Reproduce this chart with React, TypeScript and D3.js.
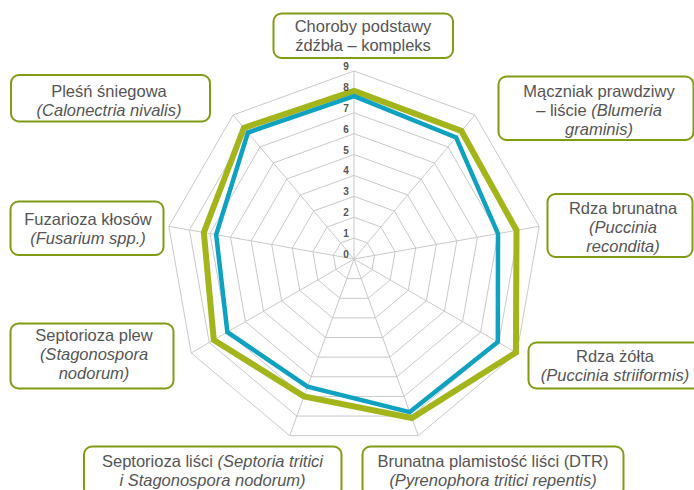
import React, { useEffect } from 'react';
import * as d3 from 'd3';

// ---- Data ----
const CATEGORIES: string[] = [
  'Choroby podstawy źdźbła – kompleks',
  'Mączniak prawdziwy – liście (Blumeria graminis)',
  'Rdza brunatna (Puccinia recondita)',
  'Rdza żółta (Puccinia striiformis)',
  'Brunatna plamistość liści (DTR) (Pyrenophora tritici repentis)',
  'Septorioza liści (Septoria tritici i Stagonospora nodorum)',
  'Septorioza plew (Stagonospora nodorum)',
  'Fuzarioza kłosów (Fusarium spp.)',
  'Pleśń śniegowa (Calonectria nivalis)',
];
const SERIES_GREEN: number[] = [8.05, 8.0, 7.9, 8.95, 8.1, 7.0, 7.75, 7.3, 8.2];
const SERIES_BLUE: number[] = [7.8, 7.6, 7.0, 7.95, 7.8, 6.5, 7.0, 6.7, 7.9];
const TICKS: number[] = [0, 1, 2, 3, 4, 5, 6, 7, 8, 9];

type Seg = { t: string; i?: boolean };
const LABEL_LINES: Seg[][][] = [
  [[{ t: 'Choroby podstawy' }], [{ t: 'źdźbła – kompleks' }]],
  [[{ t: 'Mączniak prawdziwy' }], [{ t: '– liście ' }, { t: '(Blumeria', i: true }], [{ t: 'graminis)', i: true }]],
  [[{ t: 'Rdza brunatna' }], [{ t: '(Puccinia', i: true }], [{ t: 'recondita)', i: true }]],
  [[{ t: 'Rdza żółta' }], [{ t: '(Puccinia striiformis)', i: true }]],
  [[{ t: 'Brunatna plamistość liści (DTR)' }], [{ t: '(Pyrenophora tritici repentis)', i: true }]],
  [[{ t: 'Septorioza liści ' }, { t: '(Septoria tritici', i: true }], [{ t: 'i Stagonospora nodorum)', i: true }]],
  [[{ t: 'Septorioza plew' }], [{ t: '(Stagonospora', i: true }], [{ t: 'nodorum)', i: true }]],
  [[{ t: 'Fuzarioza kłosów' }], [{ t: '(Fusarium spp.)', i: true }]],
  [[{ t: 'Pleśń śniegowa' }], [{ t: '(Calonectria nivalis)', i: true }]],
];

// ---- Layout ----
const W = 694;
const H = 490;
const CX = 354;
const CY = 259;
const R = 188;
const LINE_H = 19;
const BOXES = [
  { x: 273.5, y: 13.5, w: 179.5, h: 44.5, cx: 363, by: 32 },
  { x: 498.5, y: 76.5, w: 195, h: 63.5, cx: 599, by: 97 },
  { x: 547.5, y: 194, w: 145, h: 63, cx: 623, by: 214 },
  { x: 528.5, y: 342.5, w: 180, h: 46, cx: 615, by: 361.5 },
  { x: 362.5, y: 446.5, w: 261, h: 50, cx: 493, by: 466.5 },
  { x: 84, y: 446.5, w: 257.5, h: 50, cx: 212.5, by: 466.5 },
  { x: 10.5, y: 323.5, w: 163, h: 65, cx: 94, by: 341 },
  { x: 10.5, y: 201.5, w: 153, h: 53.5, cx: 88, by: 225 },
  { x: 11, y: 75, w: 199, h: 46.5, cx: 109, by: 96.5 },
];

const GRID = '#c9c9c9';
const GREEN = '#a3b51b';
const BLUE = '#0ea1c0';
const BORDER = '#7f9c14';
const TEXT = '#555555';

export default function App() {
  useEffect(() => {
    document.body.style.margin = '0';
  }, []);

  const n = CATEGORIES.length;
  const r = d3.scaleLinear().domain([0, 9]).range([0, R]);
  const angle = (i: number) => (i * 2 * Math.PI) / n;
  const radial = d3
    .lineRadial<number>()
    .angle((_d, i) => angle(i))
    .radius((d) => r(d))
    .curve(d3.curveLinearClosed);

  const rings = TICKS.filter((t) => t > 0).map((t) => radial(CATEGORIES.map(() => t)) || '');

  return (
    <svg
      width={W}
      height={H}
      style={{ position: 'absolute', left: 0, top: 0, display: 'block' }}
      fontFamily="'Liberation Sans', Arial, Helvetica, sans-serif"
    >
      <rect x={0} y={0} width={W} height={H} fill="#ffffff" />
      <g transform={`translate(${CX},${CY})`}>
        {rings.map((d, k) => (
          <path key={k} d={d} fill="none" stroke={GRID} strokeWidth={1} />
        ))}
        {CATEGORIES.map((_c, i) => (
          <line
            key={i}
            x1={0}
            y1={0}
            x2={r(9) * Math.sin(angle(i))}
            y2={-r(9) * Math.cos(angle(i))}
            stroke={GRID}
            strokeWidth={1}
          />
        ))}
        <path d={radial(SERIES_GREEN) || ''} fill="none" stroke={GREEN} strokeWidth={6} strokeLinejoin="miter" />
        <path d={radial(SERIES_BLUE) || ''} fill="none" stroke={BLUE} strokeWidth={4.5} strokeLinejoin="miter" />
        {TICKS.map((t) => (
          <text
            key={t}
            x={-8}
            y={-r(t) - 1}
            textAnchor="middle"
            fontSize={10}
            fontWeight="bold"
            fill={TEXT}
          >
            {t}
          </text>
        ))}
      </g>
      {BOXES.map((b, i) => (
        <g key={i}>
          <rect x={b.x} y={b.y} width={b.w} height={b.h} rx={8} ry={8} fill="#ffffff" stroke={BORDER} strokeWidth={2} />
          {LABEL_LINES[i].map((line, li) => (
            <text key={li} x={b.cx} y={b.by + li * LINE_H} textAnchor="middle" fontSize={16.5} fill={TEXT}>
              {line.map((s, si) => (
                <tspan key={si} fontStyle={s.i ? 'italic' : 'normal'}>
                  {s.t}
                </tspan>
              ))}
            </text>
          ))}
        </g>
      ))}
    </svg>
  );
}
